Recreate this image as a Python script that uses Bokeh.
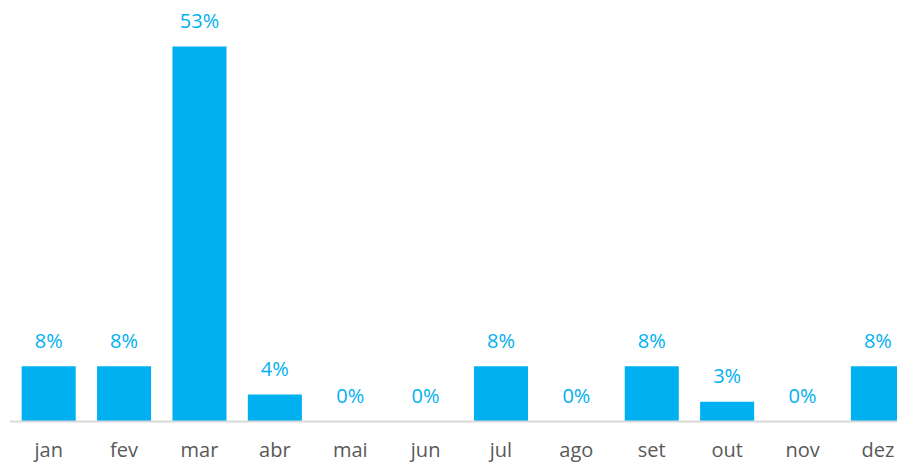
from bokeh.plotting import figure
from bokeh.models import ColumnDataSource, Range1d, Span
from bokeh.core.properties import value
from bokeh.embed import file_html
from bokeh.resources import INLINE

months = ["jan", "fev", "mar", "abr", "mai", "jun", "jul", "ago", "set", "out", "nov", "dez"]
shares = [7.8, 7.8, 53.0, 3.8, 0.0, 0.0, 7.8, 0.0, 7.8, 2.8, 0.0, 7.8]
labels = ["8%", "8%", "53%", "4%", "0%", "0%", "8%", "0%", "8%", "3%", "0%", "8%"]

BLUE = "#00B0F0"
FONT = "Open Sans"

xs = list(range(len(months)))
src = ColumnDataSource(dict(x=xs, y=shares, lab=labels, m=months, z=[0] * len(months)))

p = figure(width=897, height=464, output_backend="svg", toolbar_location=None,
           x_range=Range1d(-0.52, 11.26), y_range=Range1d(-6.08, 59.5),
           min_border_left=9, min_border_right=0, min_border_top=0, min_border_bottom=0)
p.xaxis.visible = False
p.yaxis.visible = False
p.grid.visible = False
p.outline_line_color = None
p.background_fill_color = "white"
p.border_fill_color = "white"

p.vbar(x="x", top="y", bottom=0, width=0.717, source=src, color=BLUE, line_color=None)
p.add_layout(Span(location=0, dimension="width", line_color="#D9D9D9", line_width=2))
p.text(x="x", y="y", text="lab", source=src, text_align="center", text_baseline="middle",
       y_offset=-26, text_color=BLUE, text_font=value(FONT), text_font_size="20px")
p.text(x="x", y="z", text="m", source=src, text_align="center", text_baseline="middle",
       y_offset=28, text_color="#595959", text_font=value(FONT), text_font_size="20px")

open("out.html", "w").write(file_html(p, INLINE))
